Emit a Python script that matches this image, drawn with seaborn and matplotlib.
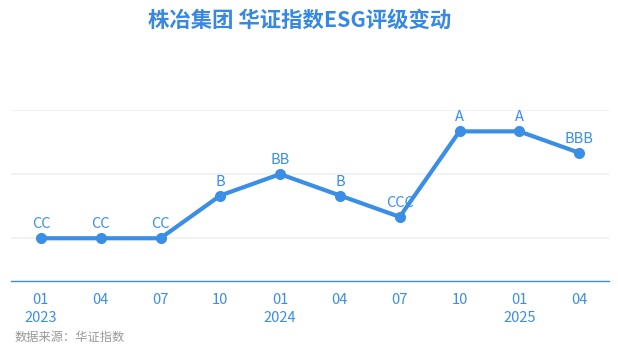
import matplotlib
matplotlib.use("Agg")
import matplotlib.pyplot as plt
import seaborn as sns
import pandas as pd

sns.set_style("white")
plt.rcParams['font.family'] = ['Noto Sans CJK SC', 'DejaVu Sans']

months = ["01", "04", "07", "10", "01", "04", "07", "10", "01", "04"]
years = ["2023", "", "", "", "2024", "", "", "", "2025", ""]
ratings = ["CC", "CC", "CC", "B", "BB", "B", "CCC", "A", "A", "BBB"]
scale = ["C", "CC", "CCC", "B", "BB", "BBB", "A", "AA", "AAA"]
level = {r: i for i, r in enumerate(scale)}

df = pd.DataFrame({"x": range(len(ratings)), "rating": ratings,
                   "y": [level[r] for r in ratings]})

color = "#3a8ee6"
fig = plt.figure(figsize=(6.18, 3.55), dpi=100)
ax = fig.add_axes([11/618, 1-281/355, 598/618, 171/355])
sns.lineplot(data=df, x="x", y="y", ax=ax, color=color, linewidth=3,
             marker="o", markersize=8, markeredgewidth=0)
for xi, yi, r in zip(df["x"], df["y"], df["rating"]):
    ax.annotate(r, (xi, yi), xytext=(0, 5), textcoords="offset points",
                ha="center", va="bottom", fontsize=10.5, color=color)

ax.set_xlim(-0.5, len(ratings) - 0.5)
ax.set_ylim(-1, 7)
ax.set_yticks([1, 4, 7])
ax.set_yticklabels([])
ax.tick_params(axis="y", length=0)
ax.grid(axis="y", color="#f0f0f0", linewidth=1.2)
ax.set_axisbelow(True)
ax.set_xticks(range(len(ratings)))
ax.set_xticklabels([m + ("\n" + y if y else "") for m, y in zip(months, years)],
                   fontsize=10.5, color=color, linespacing=1.35, va="top")
ax.tick_params(axis="x", length=5, color=color, width=1, pad=4)
for s in ["top", "right", "left"]:
    ax.spines[s].set_visible(False)
ax.spines["bottom"].set_color(color)
ax.spines["bottom"].set_linewidth(1)
ax.set_xlabel("")
ax.set_ylabel("")

fig.text(300/618, 1-20/355, "株冶集团 华证指数ESG评级变动", ha="center", va="center",
         fontsize=15.4, fontweight="bold", color="#3688e2")
fig.text(15/618, 1-337/355, "数据来源：华证指数", ha="left", va="center",
         fontsize=8.8, color="#999999")

fig.savefig("out.png", dpi=100)
